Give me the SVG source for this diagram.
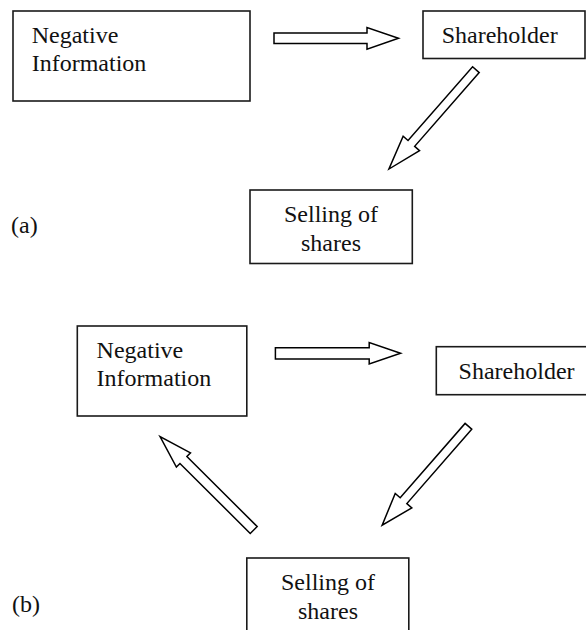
<svg xmlns="http://www.w3.org/2000/svg" width="586" height="630" viewBox="0 0 586 630" font-family="'Liberation Serif', Times, serif" font-size="24">
<style>
.box{fill:#fff;stroke:#1a1a1a;stroke-width:1.6}
.arr{fill:#fff;stroke:#000;stroke-width:1.5;stroke-linejoin:miter}
.t{font-family:'Liberation Serif', Times, serif;font-size:24px;fill:#111}
.c{text-anchor:middle}
</style>
<rect width="586" height="630" fill="#fff"/>
<g id="connectors">
<polygon class="arr" transform="translate(274,38.3)" points="0,-5.2 93,-5.2 93,-10.8 124.5,0 93,10.8 93,5.2 0,5.2"/>
<polygon class="arr" transform="translate(475.9,69.7) rotate(131.2)" points="0,-4.4 98,-4.4 98,-10.9 132,0 98,10.9 98,4.4 0,4.4"/>
<polygon class="arr" transform="translate(275.4,353.3)" points="0,-5.6 93.8,-5.6 93.8,-10.7 125.2,0 93.8,10.7 93.8,5.6 0,5.6"/>
<polygon class="arr" transform="translate(468.4,426.3) rotate(131.1)" points="0,-4.4 98.7,-4.4 98.7,-11 131.2,0 98.7,11 98.7,4.4 0,4.4"/>
<polygon class="arr" transform="translate(253.7,530) rotate(-135.1)" points="0,-4.9 99.2,-4.9 99.2,-10 132.2,0 99.2,10 99.2,4.9 0,4.9"/>
</g>
<g id="a-negative-information">
<rect class="box" x="13" y="11" width="237" height="90"/>
<text class="t" x="31.7" y="43.3">Negative</text>
<text class="t" x="31.7" y="71">Information</text>
</g>
<g id="a-shareholder">
<rect class="box" x="423" y="11" width="162" height="47.5"/>
<text class="t" x="441.7" y="43.3">Shareholder</text>
</g>
<g id="a-selling">
<rect class="box" x="250" y="190" width="162.3" height="73.5"/>
<text class="t c" x="331" y="222">Selling of</text>
<text class="t c" x="331" y="250.5">shares</text>
</g>
<g id="label-a"><text class="t" x="11" y="233">(a)</text></g>
<g id="b-negative-information">
<rect class="box" x="77.3" y="326" width="169.5" height="90"/>
<text class="t" x="96.6" y="358.3">Negative</text>
<text class="t" x="96.6" y="385.8">Information</text>
</g>
<g id="b-shareholder">
<rect class="box" x="436.3" y="346.7" width="152" height="48"/>
<text class="t" x="458.6" y="379">Shareholder</text>
</g>
<g id="b-selling">
<rect class="box" x="246.8" y="558" width="162" height="80"/>
<text class="t c" x="328" y="590">Selling of</text>
<text class="t c" x="328" y="618.5">shares</text>
</g>
<g id="label-b"><text class="t" x="12" y="612">(b)</text></g>
</svg>
